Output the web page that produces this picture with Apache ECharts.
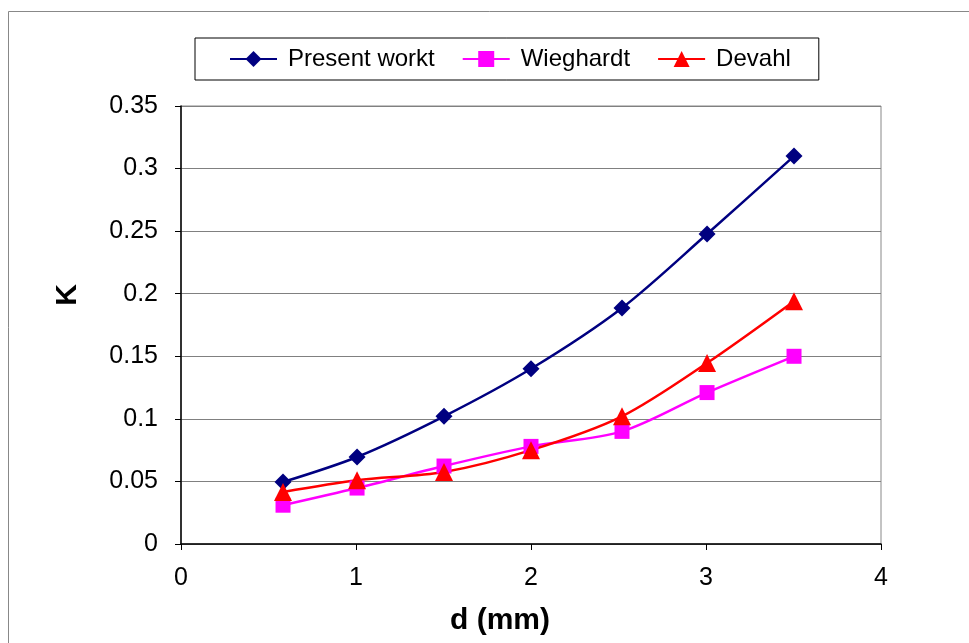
<!DOCTYPE html>
<html><head><meta charset="utf-8">
<script src="https://cdn.jsdelivr.net/npm/echarts@6/dist/echarts.min.js"></script>
<style>html,body{margin:0;padding:0;background:#fff}#c{width:969px;height:643px}</style>
</head><body><div id="c"></div>
<script>
const dPresent = [0.583, 1.006, 1.503, 2.0, 2.52, 3.006, 3.503];
const kPresent = [0.0495, 0.0695, 0.102, 0.140, 0.1886, 0.2477, 0.310];
const dWieghardt = [0.583, 1.006, 1.503, 2.0, 2.52, 3.006, 3.503];
const kWieghardt = [0.031, 0.0447, 0.0623, 0.078, 0.090, 0.121, 0.150];
const dDevahl = [0.583, 1.006, 1.503, 2.0, 2.52, 3.006, 3.503];
const kDevahl = [0.0416, 0.051, 0.0575, 0.075, 0.102, 0.1446, 0.194];
const seriesNames = ['Present workt', 'Wieghardt', 'Devahl'];

const zip = (xs, ys) => xs.map((x, i) => [x, ys[i]]);
const font = 'Liberation Sans, Arial, sans-serif';
const chart = echarts.init(document.getElementById('c'));
chart.setOption({
  animation: false,
  backgroundColor: '#fff',
  graphic: [{
    type: 'rect', shape: {x: 8.5, y: 11.5, width: 980, height: 660},
    style: {fill: 'none', stroke: '#888', lineWidth: 1}, silent: true
  }],
  legend: {
    top: 38, left: 195, width: 637, height: 42,
    padding: [9, 28, 9, 34],
    itemGap: 27, itemWidth: 47, itemHeight: 20,
    borderColor: '#000', borderWidth: 1,
    textStyle: {fontFamily: font, fontSize: 24, color: '#000', padding: [0, 0, 0, 6]},
    data: seriesNames
  },
  grid: {left: 181, top: 106, width: 700, height: 438, show: true, borderColor: '#888', borderWidth: 1},
  xAxis: {
    type: 'value', min: 0, max: 4, interval: 1,
    name: 'd (mm)', nameLocation: 'middle', nameGap: 62,
    nameTextStyle: {fontFamily: font, fontSize: 30, fontWeight: 'bold', color: '#000', padding: [0, 62, 0, 0]},
    axisLine: {show: true, onZero: false, lineStyle: {color: '#000', width: 1.5}},
    axisTick: {show: true, length: 6, lineStyle: {color: '#000'}},
    axisLabel: {fontFamily: font, fontSize: 25, color: '#000', margin: 22},
    splitLine: {show: false}
  },
  yAxis: {
    type: 'value', min: 0, max: 0.35, interval: 0.05,
    name: 'K', nameLocation: 'middle', nameGap: 98,
    nameTextStyle: {fontFamily: font, fontSize: 30, fontWeight: 'bold', color: '#000', padding: [0, 0, 0, 60]},
    axisLine: {show: true, lineStyle: {color: '#000', width: 1.5}},
    axisTick: {show: true, length: 6, lineStyle: {color: '#000'}},
    axisLabel: {fontFamily: font, fontSize: 25, color: '#000', margin: 23},
    splitLine: {show: true, lineStyle: {color: '#808080', width: 1}}
  },
  series: [
    {name: seriesNames[0], type: 'line', data: zip(dPresent, kPresent), smooth: 0.3,
     symbol: 'diamond', symbolSize: 17, itemStyle: {color: '#000080'}, lineStyle: {color: '#000080', width: 2.5}},
    {name: seriesNames[1], type: 'line', data: zip(dWieghardt, kWieghardt), smooth: 0.3,
     symbol: 'rect', symbolSize: 15, itemStyle: {color: '#ff00ff'}, lineStyle: {color: '#ff00ff', width: 2.5}},
    {name: seriesNames[2], type: 'line', data: zip(dDevahl, kDevahl), smooth: 0.3,
     symbol: 'triangle', symbolSize: 18, itemStyle: {color: '#ff0000'}, lineStyle: {color: '#ff0000', width: 2.5}}
  ]
});
</script></body></html>
